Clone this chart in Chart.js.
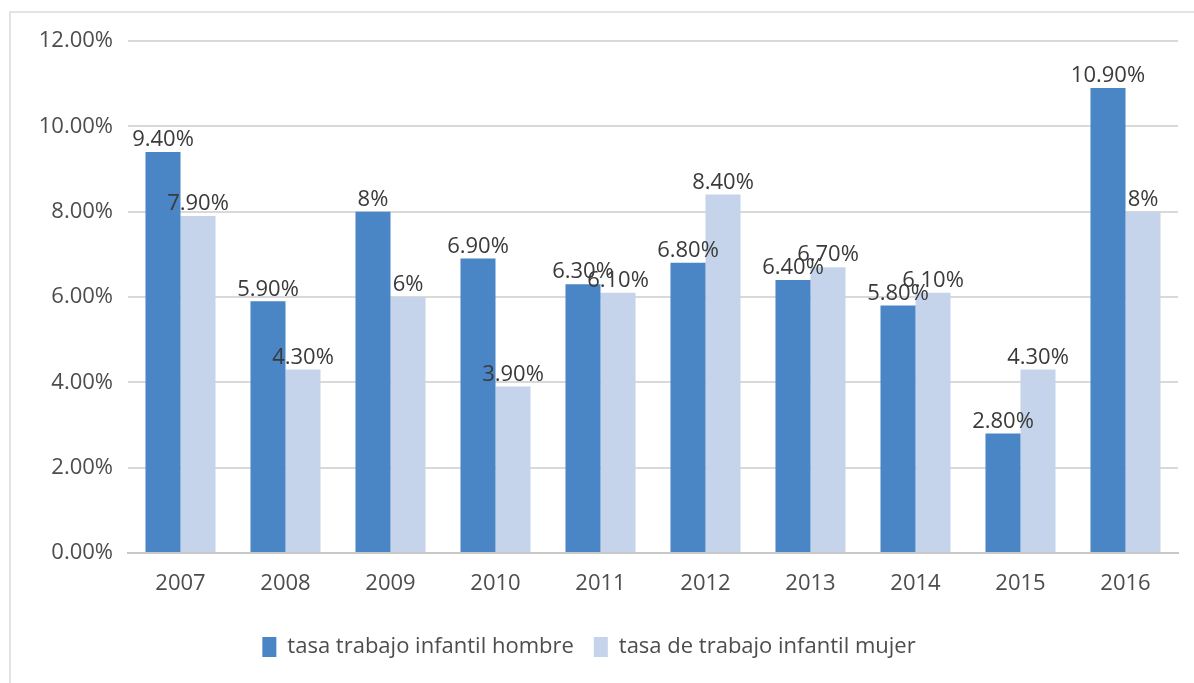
<!DOCTYPE html>
<html>
<head>
<meta charset="utf-8">
<script src="https://cdn.jsdelivr.net/npm/chart.js@4"></script>
<style>
    html, body { margin: 0; padding: 0; background: #fff; }
    #wrap { position: relative; width: 1194px; height: 683px; }
    #frame { position: absolute; left: 9px; top: 11px; right: -2px; bottom: -2px; border: 2px solid #e3e3e3; }
    canvas { position: absolute; left: 0; top: 0; }
</style>
</head>
<body>
<div id="wrap">
    <div id="frame"></div>
    <canvas id="chart" width="1194" height="683"></canvas>
</div>
<script>
const years = ["2007", "2008", "2009", "2010", "2011", "2012", "2013", "2014", "2015", "2016"]
const hombre = [9.4, 5.9, 8, 6.9, 6.3, 6.8, 6.4, 5.8, 2.8, 10.9]
const mujer = [7.9, 4.3, 6, 3.9, 6.1, 8.4, 6.7, 6.1, 4.3, 8]
const hombreLabels = ["9.40%", "5.90%", "8%", "6.90%", "6.30%", "6.80%", "6.40%", "5.80%", "2.80%", "10.90%"]
const mujerLabels = ["7.90%", "4.30%", "6%", "3.90%", "6.10%", "8.40%", "6.70%", "6.10%", "4.30%", "8%"]
const yTicks = [0, 2, 4, 6, 8, 10, 12]

const FONT = "'Open Sans', sans-serif"

// value labels drawn above every bar
const barLabels = {
    id: "barLabels",
    afterDatasetsDraw(chart) {
        const { ctx } = chart
        ctx.save()
        ctx.font = `22px ${FONT}`
        ctx.fillStyle = "#3a3a3a"
        ctx.textAlign = "center"
        ctx.textBaseline = "bottom"
        chart.data.datasets.forEach((ds, i) => {
            chart.getDatasetMeta(i).data.forEach((bar, j) => {
                ctx.fillText(ds.valueLabels[j], bar.x, bar.y - 1)
            })
        })
        ctx.restore()
    }
}

new Chart(document.getElementById("chart"), {
    type: "bar",
    data: {
        labels: years,
        datasets: [
            {
                label: "tasa trabajo infantil hombre",
                data: hombre,
                valueLabels: hombreLabels,
                backgroundColor: "#4a85c6"
            },
            {
                label: "tasa de trabajo infantil mujer",
                data: mujer,
                valueLabels: mujerLabels,
                backgroundColor: "#c5d4ea"
            }
        ]
    },
    options: {
        responsive: false,
        animation: false,
        categoryPercentage: 0.667,
        barPercentage: 1,
        layout: { padding: { left: 0, right: 16, top: 41, bottom: 15 } },
        scales: {
            x: {
                grid: { display: false, drawTicks: false },
                border: { color: "#c8c8c8", width: 2 },
                ticks: { color: "#4d4d4d", font: { size: 22, family: FONT }, padding: 18 },
                afterFit: scale => { scale.height = 63 }
            },
            y: {
                min: 0,
                max: 12,
                afterBuildTicks: scale => { scale.ticks = yTicks.map(v => ({ value: v })) },
                grid: { color: "#d9d9d9", lineWidth: 2, drawTicks: false },
                border: { display: false },
                ticks: {
                    color: "#4d4d4d",
                    font: { size: 22, family: FONT },
                    padding: 15,
                    callback: v => v.toFixed(2) + "%"
                },
                afterFit: scale => { scale.width = 128 }
            }
        },
        plugins: {
            legend: {
                position: "bottom",
                labels: {
                    boxWidth: 14,
                    boxHeight: 20,
                    padding: 20,
                    color: "#4d4d4d",
                    font: { size: 22, family: FONT }
                }
            },
            tooltip: { enabled: false }
        }
    },
    plugins: [barLabels]
})
</script>
</body>
</html>
